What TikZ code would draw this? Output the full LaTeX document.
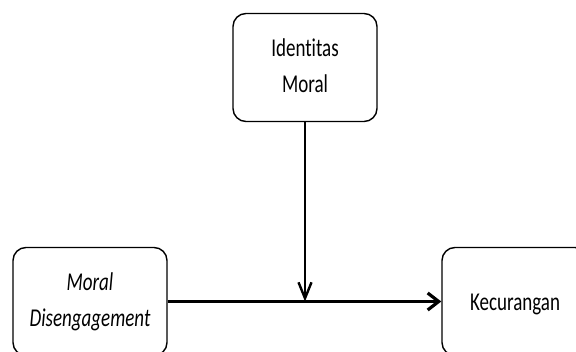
\documentclass[tikz,border=0pt]{standalone}
\usepackage{fontspec}
\setmainfont[Ligatures=NoCommon]{Carlito}
\usetikzlibrary{arrows.meta}

\newcommand{\stretched}[1]{\scalebox{1}[1.35]{\begin{tabular}{@{}c@{}}#1\end{tabular}}}

\tikzset{
  varbox/.style={draw,line width=1.4pt,rounded corners=13pt,inner sep=0pt,
    minimum height=108pt,font=\fontsize{19}{26.7}\selectfont},
  flow/.style={line width=3.2pt,-{Straight Barb[length=11pt,width=17pt]}},
  drop/.style={line width=2.4pt,-{Straight Barb[length=16pt,width=13pt]}}
}

\begin{document}
\begin{tikzpicture}[x=1pt,y=-1pt]
  \useasboundingbox (0,0) rectangle (576,352);
  \clip (0,0) rectangle (576,352);
  % the three variables
  \node[varbox,minimum width=144pt] (moral) at (305,67.5) {\stretched{Identitas\\Moral}};
  \node[varbox,minimum width=154pt] (md) at (90,301.5) {\stretched{\itshape Moral\\\itshape Disengagement}};
  \node[varbox,minimum width=146pt] (kec) at (515,301.5) {\raisebox{-15.8pt}{\smash{\stretched{Kecurangan}}}};
  % paths
  \draw[flow] (md.east) -- (kec.west);
  \coordinate (meet) at (moral.south |- md.east);
  \draw[drop] (moral.south) -- (meet);
\end{tikzpicture}
\end{document}
